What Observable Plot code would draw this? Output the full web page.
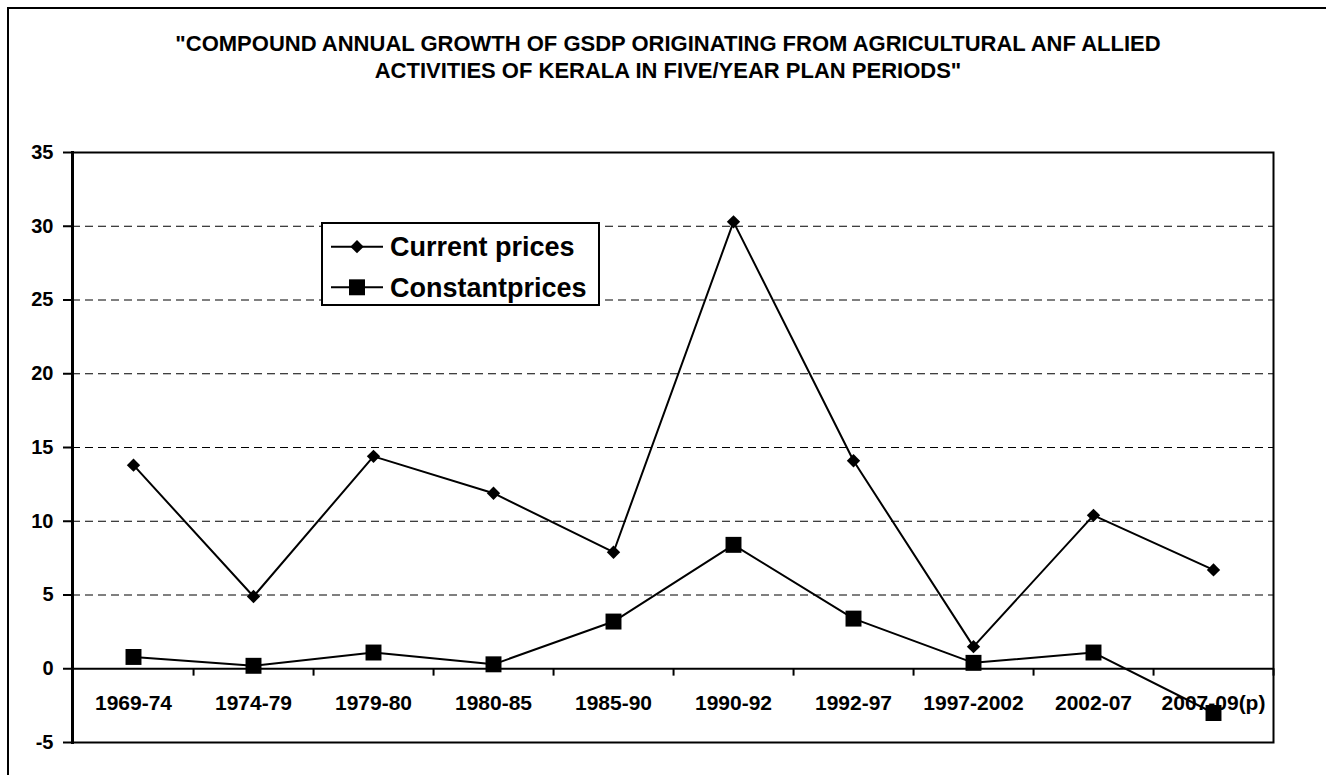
<!DOCTYPE html>
<html>
<head>
<meta charset="utf-8">
<script src="https://cdn.jsdelivr.net/npm/d3@7"></script>
<script src="https://cdn.jsdelivr.net/npm/@observablehq/plot@0.6"></script>
<style>
  html, body { margin: 0; padding: 0; background: #fff; }
  body { font-family: "Liberation Sans", Arial, Helvetica, sans-serif; }
  #wrap { position: relative; width: 1326px; height: 775px; overflow: hidden; background: #fff; }
  #outer { position: absolute; left: 7px; top: 7px; width: 1400px; height: 900px;
           border-top: 2px solid #000; border-left: 2px solid #000; }
  #title { position: absolute; left: 5px; top: 30px; width: 1326px; text-align: center;
           font-size: 22px; font-weight: bold; line-height: 27px; color: #000; }
  #chart { position: absolute; left: 0; top: 0; }
  #legend { position: absolute; left: 321px; top: 222px; width: 275px; height: 80px;
            border: 2px solid #000; background: #fff; }
  #legend svg { position: absolute; left: 0; top: 0; }
</style>
</head>
<body>
<div id="wrap">
  <div id="outer"></div>
  <div id="chart"></div>
  <div id="title"></div>
  <div id="legend"></div>
</div>
<script>
// ---- data ----
const titleLines = [
  "\"COMPOUND ANNUAL GROWTH OF GSDP ORIGINATING FROM AGRICULTURAL ANF ALLIED",
  "ACTIVITIES OF KERALA IN FIVE/YEAR PLAN PERIODS\""
];
const periods = ["1969-74", "1974-79", "1979-80", "1980-85", "1985-90", "1990-92", "1992-97", "1997-2002", "2002-07", "2007-09(p)"];
const currentPrices = [13.8, 4.9, 14.4, 11.9, 7.9, 30.3, 14.1, 1.5, 10.4, 6.7];
const constantPrices = [0.8, 0.2, 1.1, 0.3, 3.2, 8.4, 3.4, 0.4, 1.1, -3.0];
const yTicks = [-5, 0, 5, 10, 15, 20, 25, 30, 35];
const gridValues = [5, 10, 15, 20, 25, 30];
const seriesNames = ["Current prices", "Constantprices"];

// ---- build ----
document.getElementById("title").innerHTML = titleLines.join("<br>");

const current = periods.map((p, i) => ({period: p, value: currentPrices[i]}));
const constant = periods.map((p, i) => ({period: p, value: constantPrices[i]}));

const W = 1326, H = 775;
const mL = 72, mR = 53, mT = 152, mB = 33;
const halfStep = (W - mL - mR) / periods.length / 2;
const FONT = "'Liberation Sans', Arial, Helvetica, sans-serif";

const chart = Plot.plot({
  width: W,
  height: H,
  marginLeft: mL,
  marginRight: mR,
  marginTop: mT,
  marginBottom: mB,
  style: {fontFamily: FONT, color: "#000", background: "transparent", overflow: "visible"},
  x: {type: "point", domain: periods, padding: 0.5, axis: null},
  y: {domain: [-5, 35], axis: null},
  marks: [
    Plot.ruleY(gridValues, {stroke: "#000", strokeWidth: 1, strokeDasharray: "8,5"}),
    Plot.ruleY([0], {stroke: "#000", strokeWidth: 2}),
    Plot.ruleX(periods, {x: d => d, y1: 0, y2: -0.5, dx: halfStep, stroke: "#000", strokeWidth: 2}),
    Plot.frame({stroke: "#000", strokeWidth: 2}),
    Plot.frame({anchor: "left", stroke: "#000", strokeWidth: 3}),
    Plot.axisY({ticks: yTicks, tickSize: 9, tickPadding: 10, strokeWidth: 2,
                fontSize: 20, fontWeight: "bold", label: null, tickFormat: d => String(d)}),
    Plot.text(periods, {x: d => d, y: 0, dy: 35, text: d => d, fontSize: 21, fontWeight: "bold", fill: "#000"}),
    Plot.line(current, {x: "period", y: "value", stroke: "#000", strokeWidth: 2}),
    Plot.line(constant, {x: "period", y: "value", stroke: "#000", strokeWidth: 2}),
    Plot.dot(current, {x: "period", y: "value", symbol: "diamond2", r: 6, fill: "#000", stroke: "none"}),
    Plot.dot(constant, {x: "period", y: "value", symbol: "square", r: 9, fill: "#000", stroke: "none"})
  ]
});
document.getElementById("chart").appendChild(chart);

// ---- legend ----
const leg = d3.select("#legend").append("svg").attr("width", 275).attr("height", 80)
  .style("font-family", FONT);
const rows = [
  {name: seriesNames[0], sym: d3.symbolDiamond2, r: 6, cy: 22.7},
  {name: seriesNames[1], sym: d3.symbolSquare, r: 9, cy: 63.3}
];
rows.forEach(row => {
  const g = leg.append("g");
  g.append("line").attr("x1", 8).attr("x2", 60).attr("y1", row.cy).attr("y2", row.cy)
    .attr("stroke", "#000").attr("stroke-width", 2);
  g.append("path").attr("d", d3.symbol(row.sym, Math.PI * row.r * row.r)())
    .attr("transform", `translate(34,${row.cy})`).attr("fill", "#000");
  g.append("text").attr("x", 67).attr("y", row.cy + 9.7).attr("font-size", 27)
    .attr("font-weight", "bold").attr("fill", "#000").text(row.name);
});
</script>
</body>
</html>
